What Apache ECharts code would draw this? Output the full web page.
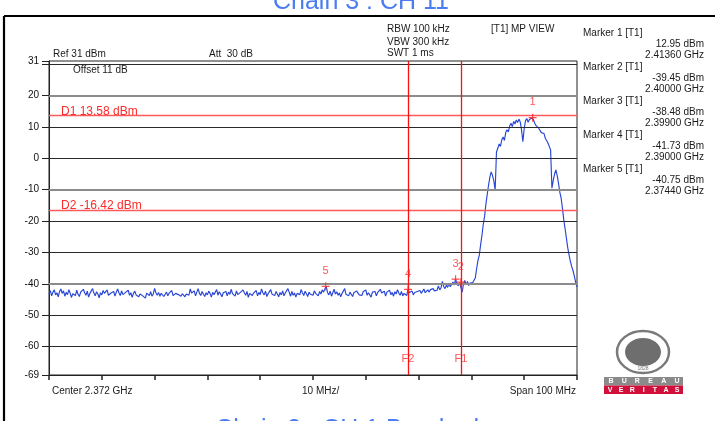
<!DOCTYPE html>
<html><head><meta charset="utf-8">
<script src="https://cdn.jsdelivr.net/npm/echarts@6/dist/echarts.min.js"></script>
<style>html,body{margin:0;padding:0;background:#fff}#c{width:715px;height:421px}</style>
</head><body><div id="c"></div>
<script>
// Sweep: start frequency and step (MHz), trace levels in dBm
const startMHz = 2322;
const stepMHz = 0.25;
const spanMHz = 100;
const centerGHz = 2.372;
const traceDbm = [
-43.2,-42.1,-43.8,-42.6,-41.9,-43.5,-42.8,-44.1,-42.4,-41.6,-43.0,-42.2,-43.9,-42.7,-43.4,-41.8,-42.9,-44.3,-43.1,-42.5,
-43.7,-42.0,-43.3,-44.0,-42.6,-43.1,-41.7,-42.8,-43.6,-42.3,-44.2,-43.0,-42.4,-41.5,-42.9,-43.8,-42.5,-43.2,-44.4,-42.8,
-43.5,-42.1,-43.0,-42.7,-41.9,-43.6,-44.1,-42.9,-43.3,-42.4,-43.9,-42.6,-41.6,-42.8,-43.7,-42.2,-43.4,-44.0,-42.7,-43.1,
-42.0,-43.6,-42.8,-44.3,-43.0,-42.3,-43.5,-42.9,-44.1,-43.2,-42.6,-43.8,-43.3,-44.5,-42.9,-43.1,-43.7,-42.5,-43.9,-43.2,
-41.4,-42.8,-43.6,-42.7,-43.9,-43.0,-42.4,-44.0,-43.3,-42.6,-43.8,-42.9,-43.5,-42.1,-43.7,-44.2,-43.0,-42.6,-43.4,-42.8,
-43.9,-43.1,-42.5,-44.1,-43.2,-42.7,-43.6,-41.6,-42.9,-43.4,-42.2,-43.8,-42.6,-41.5,-43.0,-43.7,-42.4,-43.3,-44.0,-42.8,
-43.5,-42.3,-43.0,-44.2,-42.7,-43.4,-42.9,-41.8,-43.6,-42.5,-43.2,-44.1,-42.8,-43.0,-42.4,-43.8,-42.6,-43.3,-41.7,-43.1,
-42.6,-43.9,-42.2,-43.4,-44.0,-42.7,-43.1,-41.9,-42.8,-43.6,-42.4,-44.3,-43.0,-42.5,-43.7,-42.9,-43.3,-42.1,-43.8,-42.7,
-43.4,-41.6,-42.8,-43.5,-42.3,-44.0,-43.1,-42.6,-41.8,-43.3,-42.9,-43.7,-42.4,-43.0,-44.1,-42.7,-43.5,-42.2,-43.8,-42.9,
-43.2,-41.5,-42.7,-43.9,-42.4,-43.6,-42.9,-44.2,-43.0,-42.5,-43.4,-41.8,-42.8,-43.7,-42.3,-43.1,-44.0,-42.6,-43.3,-42.8,
-43.6,-42.2,-43.0,-42.7,-43.8,-42.4,-43.2,-41.9,-42.6,-41.6,-40.8,-42.7,-43.5,-42.3,-43.9,-42.8,-41.7,-43.2,-42.5,-43.6,
-42.9,-44.1,-43.0,-42.4,-41.5,-43.3,-42.7,-43.8,-42.6,-43.1,-44.0,-42.8,-43.4,-42.2,-41.8,-43.5,-42.9,-43.7,-42.5,-43.0,
-41.9,-43.6,-42.8,-43.3,-44.2,-42.6,-43.0,-42.4,-43.8,-42.7,-43.2,-41.7,-42.9,-43.5,-42.3,-43.9,-42.6,-43.1,-42.0,-43.4,
-42.7,-43.9,-42.5,-43.2,-41.8,-42.9,-43.6,-42.4,-43.8,-43.0,-42.6,-43.7,-41.73,-42.8,-43.4,-42.2,-43.5,-42.7,-43.1,-42.4,
-42.9,-42.1,-43.0,-42.5,-41.6,-42.8,-42.3,-41.9,-42.6,-41.8,-42.4,-41.5,-42.2,-41.7,-42.0,-40.6,-41.9,-41.2,-39.2,-40.8,
-41.5,-40.4,-41.1,-39.8,-40.9,-40.2,-39.4,-40.3,-38.48,-39.9,-40.6,-39.6,-39.45,-42.6,-40.1,-38.9,-40.3,-39.2,-40.5,-39.7,
-40.2,-39.6,-39.0,-38.0,-35.0,-32.5,-30.8,-27.5,-24.5,-21.0,-18.5,-14.5,-11.5,-8.5,-6.0,-4.3,-5.5,-7.2,-10.1,2.0,
3.2,4.6,3.8,5.9,6.8,5.7,8.2,9.1,8.4,10.3,11.2,10.1,11.8,10.9,12.2,11.4,12.5,11.6,9.0,5.3,
9.5,12.0,12.7,11.5,12.4,13.0,12.95,12.3,11.2,10.4,10.8,9.6,9.1,8.2,7.6,7.9,6.4,5.8,4.9,3.8,
2.7,-9.5,-7.0,-5.0,-3.7,-5.5,-8.0,-10.8,-12.7,-16.0,-19.6,-22.5,-25.5,-28.5,-30.8,-32.8,-34.5,-35.8,-37.5,-39.5,-40.9
];
const yTickValues = [31,30,20,10,0,-10,-20,-30,-40,-50,-60,-69];
const yLabelValues = [31,20,10,0,-10,-20,-30,-40,-50,-60,-69];
const gridLevels = [30,20,10,0,-10,-20,-30,-40,-50,-60];
const grayGridLevels = [20,-10,-40];
const markerFreqMHz = [2413.6,2400.0,2399.0,2390.0,2374.4];
const markerDbm = [12.95,-39.45,-38.48,-41.73,-40.75];
const displayLineNames = ['D1','D2'];
const displayLineDbm = [13.58,-16.42];
const freqLineNames = ['F1','F2'];
const freqLineMHz = [2400,2390];

const FONT = 'Liberation Sans, Arial, sans-serif';
const chart = echarts.init(document.getElementById('c'));
const tracePts = traceDbm.map((v,i)=>[i*stepMHz, v]);
const markerPts = markerFreqMHz.map((f,i)=>[f-startMHz, markerDbm[i]]);
const fLabelLevel = -64;

function txt(x,y,s,opt){
  return Object.assign({type:'text',x:x,y:y,silent:true,style:Object.assign({text:s,fill:'#1a1a1a',font:'10px '+FONT,textAlign:'left',textVerticalAlign:'middle'},opt||{})});
}
const g = [];
// outer frame lines
g.push({type:'line',shape:{x1:4,y1:16,x2:715,y2:16},style:{stroke:'#000',lineWidth:2.2},silent:true});
g.push({type:'line',shape:{x1:4,y1:16,x2:4,y2:421},style:{stroke:'#000',lineWidth:2.2},silent:true});
// titles
g.push(txt(361,2,'Chain 3 : CH 11',{fill:'#4a7cf2',font:'25px '+FONT,textAlign:'center'}));
g.push(txt(361,430,'Chain 3 : CH 1 Band edge',{fill:'#4a7cf2',font:'25px '+FONT,textAlign:'center'}));
// header
g.push(txt(53,54,'Ref 31 dBm'));
g.push(txt(209,54,'Att  30 dB'));
g.push(txt(73,70,'Offset 11 dB'));
g.push(txt(387,29,'RBW 100 kHz'));
g.push(txt(387,42,'VBW 300 kHz'));
g.push(txt(387,53,'SWT 1 ms'));
g.push(txt(491,29,'[T1] MP VIEW'));
// marker panel
markerFreqMHz.forEach((f,i)=>{
  const y0 = 33.5 + i*33.9;
  g.push(txt(583,y0,'Marker '+(i+1)+' [T1]'));
  g.push(txt(704,y0+11,markerDbm[i].toFixed(2)+' dBm',{textAlign:'right'}));
  g.push(txt(704,y0+22,(f/1000).toFixed(5)+' GHz',{textAlign:'right'}));
});
// bottom labels
g.push(txt(52,391.5,'Center '+centerGHz.toFixed(3)+' GHz'));
g.push(txt(302,391.5,(spanMHz/10)+' MHz/'));
g.push(txt(576,391.5,'Span '+spanMHz+' MHz',{textAlign:'right'}));
// logo
g.push({type:'ellipse',shape:{cx:643,cy:352,rx:26,ry:21},style:{fill:'#fff',stroke:'#7a7a7a',lineWidth:2.5},silent:true});
g.push({type:'ellipse',shape:{cx:643,cy:352,rx:18,ry:14},style:{fill:'#6e6e6e'},silent:true});
g.push(txt(643,369,'1828',{fill:'#777',font:'5px '+FONT,textAlign:'center'}));
g.push({type:'rect',shape:{x:604,y:377,width:79,height:8.5},style:{fill:'#8a8a8a'},silent:true});
g.push({type:'rect',shape:{x:604,y:385.5,width:79,height:8.5},style:{fill:'#d0103a'},silent:true});
'BUREAU'.split('').forEach((c,i)=>g.push(txt(611+i*13.2,381.5,c,{fill:'#fff',font:'bold 7px '+FONT,textAlign:'center'})));
'VERITAS'.split('').forEach((c,i)=>g.push(txt(610+i*11.2,390,c,{fill:'#fff',font:'bold 7px '+FONT,textAlign:'center'})));

const option = {
  animation:false,
  grid:{left:49,right:138,top:61,bottom:46,show:true,borderColor:'#222',borderWidth:1},
  xAxis:{type:'value',min:0,max:spanMHz,interval:10,
    axisLine:{show:true,onZero:false,lineStyle:{color:'#222',width:1}},
    axisTick:{show:true,inside:false,length:5,lineStyle:{color:'#222',width:1.5}},
    axisLabel:{show:false},splitLine:{show:false}},
  yAxis:{type:'value',min:-69,max:31,
    axisLine:{show:true,lineStyle:{color:'#222'}},
    axisTick:{show:true,length:7,customValues:yTickValues,lineStyle:{color:'#222'}},
    axisLabel:{customValues:yLabelValues,margin:10,fontSize:10,color:'#111',fontFamily:FONT},
    splitLine:{show:false}},
  graphic:g,
  series:[
    {type:'line',name:'grid',data:[],z:1,silent:true,
      markLine:{silent:true,symbol:'none',label:{show:false},
        data:gridLevels.map(v=>({yAxis:v,lineStyle:grayGridLevels.includes(v)?{color:'#8c8c8c',width:2,type:'solid'}:{color:'#2a2a2a',width:1,type:'solid'}}))}},
    {type:'line',name:'display',data:[],z:3,silent:true,
      markLine:{silent:true,symbol:'none',
        label:{show:true,position:'insideStartTop',color:'#ff2a2a',fontSize:12,fontFamily:FONT,distance:[12,-2]},
        lineStyle:{color:'#ff5a5a',width:1.3,type:'solid'},
        data:displayLineDbm.map((v,i)=>({yAxis:v,label:{formatter:displayLineNames[i]+' '+v.toFixed(2)+' dBm'}}))
          .concat(freqLineMHz.map(f=>({xAxis:f-startMHz,label:{show:false},lineStyle:{color:'#ff1010',width:1.3}})))}},
    {type:'line',name:'trace',data:tracePts,showSymbol:false,symbol:'none',z:4,
      lineStyle:{color:'#2846d6',width:1.15},silent:true},
    {type:'scatter',name:'markers',data:markerPts,z:5,silent:true,
      symbol:'path://M3.4,0H4.6V8H3.4Z M0,3.4H8V4.6H0Z',symbolSize:8,itemStyle:{color:'#ff2020'},
      label:{show:true,position:'top',distance:6,color:'#ff3030',fontSize:11,fontFamily:FONT,formatter:p=>String(p.dataIndex+1)}},
    {type:'scatter',name:'fLabels',data:freqLineMHz.map(f=>[f-startMHz,fLabelLevel]),z:5,silent:true,symbolSize:0,
      label:{show:true,position:'inside',color:'#ff2a2a',fontSize:11,fontFamily:FONT,formatter:p=>freqLineNames[p.dataIndex]}}
  ]
};
chart.setOption(option);
</script></body></html>
